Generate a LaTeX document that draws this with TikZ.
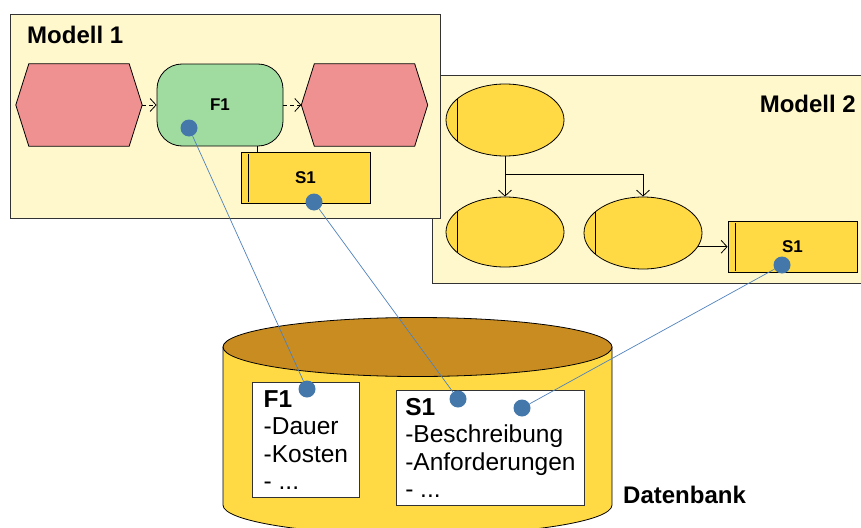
\documentclass[tikz,border=0pt]{standalone}
\usepackage{fontspec}
\setmainfont{Liberation Sans}
\usetikzlibrary{shapes.geometric,arrows.meta}
\definecolor{modelbg}{RGB}{255,248,204}
\definecolor{eventred}{RGB}{240,145,145}
\definecolor{funcgreen}{RGB}{160,220,160}
\definecolor{docyellow}{RGB}{255,218,68}
\definecolor{dbtop}{RGB}{200,140,32}
\definecolor{portblue}{RGB}{68,120,170}
\definecolor{linkblue}{RGB}{79,129,189}
\tikzset{
    model-box/.style = {draw=black!80, fill=modelbg, line width=0.8pt, rectangle, inner sep=0pt},
    model-title/.style = {inner sep=0pt, font=\bfseries\fontsize{24pt}{28pt}\selectfont},
    event-hex/.style = {rectangle, minimum width=126pt, minimum height=82pt, inner sep=0pt},
    func-box/.style = {draw, fill=funcgreen, line width=0.8pt, rectangle, rounded corners=25pt, minimum width=126pt, minimum height=82pt, font=\bfseries\fontsize{17pt}{20pt}\selectfont},
    doc-box/.style = {draw, fill=docyellow, line width=0.8pt, rectangle, minimum width=129pt, minimum height=51pt, font=\bfseries\fontsize{17pt}{20pt}\selectfont},
    proc-oval/.style = {draw, fill=docyellow, line width=0.8pt, ellipse, minimum width=118pt, minimum height=72pt, inner sep=0pt},
    flow/.style = {line width=0.8pt, -{Straight Barb[length=6pt,width=13pt]}},
    port/.style = {circle, fill=portblue, minimum size=17pt, inner sep=0pt},
    link/.style = {draw=linkblue, line width=0.7pt},
    db-box/.style = {draw=black!80, fill=white, line width=0.8pt, rectangle, anchor=north west, minimum height=115pt, inner sep=0pt, align=left, font=\fontsize{24.5pt}{27.5pt}\selectfont},
}

\begin{document}
\begin{tikzpicture}[x=1pt, y=-1pt]
\useasboundingbox (0,0) rectangle (861,527);
\clip (0,0) rectangle (861,527);

% the two models
\node[model-box, anchor=north west, minimum width=440pt, minimum height=208pt] (m2) at (432,75) {};
\node[model-box, anchor=north west, minimum width=430pt, minimum height=204pt] (m1) at (10,14) {};
\node[model-title, anchor=base west] (t1) at (27,44) {Modell 1};
\node[model-title, anchor=base east] (t2) at (856,112) {Modell 2};

% Modell 1
\node[event-hex] (e1) at (79,105) {};
\node[func-box] (f1) at (220,105) {F1};
\node[event-hex] (e2) at (364.5,105) {};
\foreach \e in {e1,e2}
    \draw[line width=0.8pt, fill=eventred] (\e.west) -- ([xshift=13pt]\e.north west) -- ([xshift=-13pt]\e.north east)
        -- (\e.east) -- ([xshift=-13pt]\e.south east) -- ([xshift=13pt]\e.south west) -- cycle;
\node[doc-box] (s1a) at (305.5,178) {S1};
\draw[flow, dash pattern=on 4pt off 3pt] (e1) -- (f1);
\draw[flow, dash pattern=on 4pt off 3pt] (f1) -- (e2);
\draw[line width=0.8pt] ([xshift=17pt]s1a.north west) -- ([xshift=17pt]s1a.north west |- f1.south);
\draw[line width=0.8pt] ([xshift=8pt,yshift=-2pt]s1a.north west) -- ([xshift=8pt,yshift=2pt]s1a.south west);

% Modell 2
\node[proc-oval] (o1) at (505,120) {};
\node[proc-oval, minimum height=70pt] (o2) at (505,232) {};
\node[proc-oval] (o3) at (643,233) {};
\node[doc-box] (s1b) at (792.5,247) {S1};
\foreach \o in {o1,o2,o3}
    \draw[line width=0.8pt] (\o.156) -- (\o.204);
\draw[line width=0.8pt] ([xshift=8pt,yshift=-2pt]s1b.north west) -- ([xshift=8pt,yshift=2pt]s1b.south west);
\coordinate (fork) at (505,174);
\draw[line width=0.8pt] (o1.south) -- (fork);
\draw[flow] (fork) -- (o2.north);
\draw[flow] (fork) -| (o3.north);
\draw[flow] (o3.-14) -- (o3.-14 -| s1b.west);

% Datenbank
\draw[line width=0.8pt, fill=docyellow] (223,347) -- (223,505) arc[start angle=180, end angle=0, x radius=194.5, y radius=30] -- (612,347) -- cycle;
\draw[line width=0.8pt, fill=dbtop] (417.5,347) ellipse[x radius=194.5, y radius=29.5];
\node[db-box, minimum width=107pt] (dbf1) at (252,382) {\textbf{F1}\\-Dauer\\-Kosten\\- ...};
\node[db-box, minimum width=188pt] (dbs1) at (396,390) {\textbf{S1}\\-Beschreibung\\-Anforderungen\\- ...};
\node[anchor=base west, inner sep=0pt, font=\bfseries\fontsize{24pt}{28pt}\selectfont] (dblabel) at (623,503) {Datenbank};

% links
\node[port] (pf1) at (189,128) {};
\node[port] (ps1a) at (314,202) {};
\node[port] (ps1b) at (782,265) {};
\node[port] (qf1) at (307,389) {};
\node[port] (qs1a) at (458,399) {};
\node[port] (qs1b) at (522,408) {};
\draw[link] (pf1) -- (qf1);
\draw[link] (ps1a) -- (qs1a);
\draw[link] (ps1b) -- (qs1b);
\end{tikzpicture}
\end{document}
